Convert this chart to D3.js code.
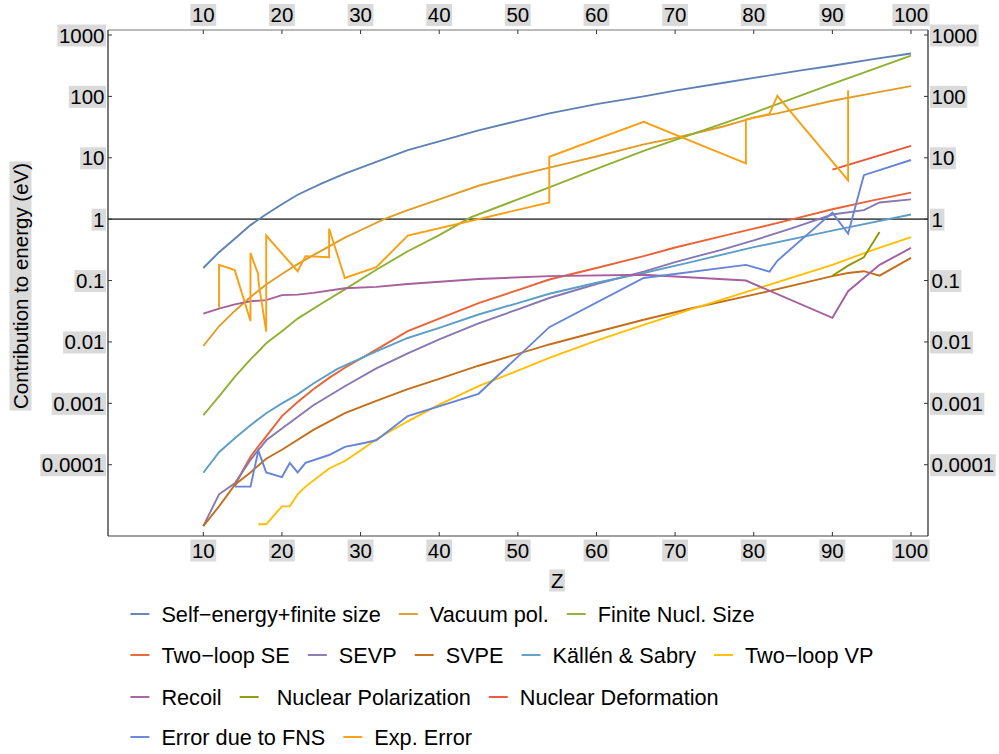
<!DOCTYPE html>
<html><head><meta charset="utf-8">
<script src="https://cdn.jsdelivr.net/npm/d3@7"></script>
<style>body{margin:0;background:#fff}text{font-family:"Liberation Sans",Arial,sans-serif;fill:#000}</style>
</head><body><svg id="c" width="999" height="754"></svg>
<script>
// ---------- data ----------
const xTicks = [10,20,30,40,50,60,70,80,90,100];
const xTickLabels = ["10","20","30","40","50","60","70","80","90","100"];
const yTicks = [1e-4,1e-3,1e-2,1e-1,1,10,100,1000];
const yTickLabels = ["0.0001","0.001","0.01","0.1","1","10","100","1000"];
const xTitle = "Z";
const yTitle = "Contribution to energy (eV)";

const selfEnergy = [[10,0.16],[12,0.29],[14,0.48],[16,0.8],[18,1.2],[20,1.75],[22,2.5],[25,3.8],[28,5.5],[32,8.6],[36,13.3],[40,18.5],[45,28],[50,40],[54,53],[60,75],[66,100],[70,124],[76,165],[80,200],[86,265],[90,315],[95,400],[100,500]];
const vacuumPol = [[10,0.0086],[12,0.018],[14,0.032],[16,0.054],[18,0.086],[20,0.128],[22,0.185],[24,0.26],[26,0.36],[28,0.5],[30,0.66],[33,1.0],[36,1.4],[40,2.1],[45,3.5],[50,5.2],[54,6.9],[60,10.5],[66,16.5],[70,21],[76,32],[80,45],[83,53],[90,85],[95,112],[100,147]];
const finiteNuclSize = [[10,0.00064],[12,0.0013],[14,0.0027],[16,0.0052],[18,0.0095],[20,0.015],[22,0.024],[25,0.042],[28,0.072],[32,0.15],[36,0.3],[40,0.55],[44,1.07],[50,2.1],[54,3.3],[60,6.6],[66,13],[73,26.5],[80,54],[90,160],[100,460]];
const twoLoopSE = [[14,4.4e-5],[15,8e-5],[16,1.35e-4],[17,2.0e-4],[18,2.9e-4],[20,6.2e-4],[22,1.05e-3],[24,1.7e-3],[26,2.6e-3],[28,3.8e-3],[32,7.5e-3],[36,0.015],[40,0.024],[45,0.043],[50,0.07],[54,0.104],[60,0.16],[66,0.25],[70,0.345],[76,0.53],[80,0.7],[85,1.0],[90,1.45],[95,2.0],[100,2.7]];
const sevp = [[10,1e-5],[12,3.3e-5],[14,5e-5],[16,1.2e-4],[18,2.5e-4],[20,3.9e-4],[24,9.3e-4],[28,1.9e-3],[32,3.7e-3],[36,6.5e-3],[40,0.011],[45,0.02],[50,0.034],[54,0.052],[60,0.088],[66,0.14],[70,0.2],[76,0.32],[80,0.45],[85,0.72],[90,1.19],[94,1.4],[96,1.87],[100,2.1]];
const svpe = [[10,1e-5],[12,2.1e-5],[14,4.7e-5],[16,7.5e-5],[18,1.25e-4],[20,1.75e-4],[24,3.7e-4],[28,6.9e-4],[32,1.1e-3],[36,1.7e-3],[40,2.5e-3],[45,4.1e-3],[54,9.1e-3],[60,0.0145],[66,0.023],[72,0.035],[80,0.059],[90,0.118],[92,0.133],[94,0.142],[96,0.12],[100,0.234]];
const kallenSabry = [[10,7.4e-5],[12,1.6e-4],[14,2.7e-4],[16,4.4e-4],[18,6.9e-4],[20,1.0e-3],[22,1.4e-3],[24,2.1e-3],[27,3.6e-3],[32,7.0e-3],[36,0.0116],[40,0.017],[45,0.028],[50,0.043],[54,0.061],[60,0.092],[66,0.133],[72,0.2],[80,0.35],[90,0.65],[100,1.19]];
const twoLoopVP = [[17,1.07e-5],[18,1.07e-5],[20,2.1e-5],[21,2.1e-5],[22,3.3e-5],[23,4.4e-5],[26,8.7e-5],[28,1.15e-4],[30,1.7e-4],[32,2.6e-4],[36,5.1e-4],[40,9.5e-4],[45,1.9e-3],[50,3.4e-3],[54,5.5e-3],[60,0.0105],[66,0.019],[72,0.034],[80,0.071],[90,0.18],[95,0.31],[100,0.51]];
const recoil = [[10,0.029],[12,0.035],[14,0.041],[16,0.046],[18,0.048],[20,0.058],[22,0.059],[24,0.063],[28,0.075],[32,0.079],[36,0.088],[45,0.106],[54,0.118],[66,0.124],[79,0.1],[90,0.0247],[92,0.067],[96,0.18],[100,0.34]];
const nuclearPolarization = [[90,0.12],[92,0.175],[94,0.24],[96,0.62]];
const nuclearDeformation = [[90,6.4],[100,15.6]];
const errorFNS = [[14,4.4e-5],[16,4.4e-5],[17,1.7e-4],[18,7.5e-5],[20,6.3e-5],[21,1.07e-4],[22,7.5e-5],[23,1.07e-4],[26,1.44e-4],[28,1.96e-4],[30,2.2e-4],[32,2.5e-4],[36,6.2e-4],[45,1.43e-3],[54,0.0174],[66,0.11],[79,0.18],[82,0.14],[83,0.21],[90,1.28],[92,0.58],[94,5.2],[100,9.2]];
const expError = [[12,0.036],[12,0.18],[14,0.148],[16,0.022],[16,0.28],[17,0.125],[17,0.1],[18,0.0147],[18,0.54],[22,0.142],[23,0.25],[26,0.24],[26,0.7],[28,0.11],[32,0.165],[36,0.54],[54,1.87],[54,10.4],[66,38.5],[79,8.1],[79,42],[82,52],[83,102],[92,4.3],[92,126]];

const seriesNames = ["Self\u2212energy+finite size","Vacuum pol.","Finite Nucl. Size","Two\u2212loop SE","SEVP","SVPE","Källén & Sabry","Two\u2212loop VP","Recoil"," Nuclear Polarization","Nuclear Deformation","Error due to FNS","Exp. Error"];
const seriesData = [selfEnergy,vacuumPol,finiteNuclSize,twoLoopSE,sevp,svpe,kallenSabry,twoLoopVP,recoil,nuclearPolarization,nuclearDeformation,errorFNS,expError];
const seriesColors = ["#5E81B5","#E19C24","#8FB032","#EB6235","#8778B3","#C56E1A","#5D9EC7","#FFBF00","#A5609D","#929600","#E95536","#6685D9","#F89F13"];
const legendRows = [[0,1,2],[3,4,5,6,7],[8,9,10],[11,12]];

// ---------- layout ----------
const W=999,H=754;
const L=108,R=928,T=30,B=536;
const FS=20.5, LFS=21.7, LBG="#dadada";
const svg=d3.select("#c");
const x=d3.scaleLinear().domain([-2.12,102.16]).range([L,R]);
const y=d3.scaleLog().domain([Math.pow(10,-5.161),Math.pow(10,3.0815)]).range([B,T]);

function boxed(sel){
  sel.each(function(){
    const bb=this.getBBox();
    const p=this.parentNode;
    d3.select(p).insert("rect",()=>this)
      .attr("x",bb.x-1.5).attr("y",bb.y+1).attr("width",bb.width+3).attr("height",bb.height-1)
      .attr("fill",LBG).attr("transform",d3.select(this).attr("transform"));
  });
}

const plot=svg.append("g");
const line=d3.line().x(d=>x(d[0])).y(d=>y(d[1]));
// unity reference line
plot.append("line").attr("x1",L).attr("x2",R).attr("y1",y(1)).attr("y2",y(1)).attr("stroke","#555").attr("stroke-width",1.6);
seriesData.forEach((s,i)=>{
  plot.append("path").attr("d",line(s)).attr("fill","none").attr("stroke",seriesColors[i]).attr("stroke-width",1.9).attr("stroke-linejoin","miter");
});

// frame
const fr=svg.append("g").attr("stroke","#222").attr("stroke-width",1.2);
fr.append("line").attr("x1",L).attr("x2",R).attr("y1",B).attr("y2",B).attr("stroke","#444");
fr.append("line").attr("x1",L).attr("x2",R).attr("y1",T).attr("y2",T).attr("stroke","#777");
fr.append("line").attr("x1",L).attr("x2",L).attr("y1",T).attr("y2",B);
fr.append("line").attr("x1",R).attr("x2",R).attr("y1",T).attr("y2",B);

// ticks
const tk=svg.append("g").attr("stroke","#333").attr("stroke-width",1);
xTicks.forEach(v=>{
  tk.append("line").attr("x1",x(v)).attr("x2",x(v)).attr("y1",B).attr("y2",B-4);
  tk.append("line").attr("x1",x(v)).attr("x2",x(v)).attr("y1",T).attr("y2",T+4);
});
yTicks.forEach(v=>{
  tk.append("line").attr("x1",L).attr("x2",L+4).attr("y1",y(v)).attr("y2",y(v));
  tk.append("line").attr("x1",R).attr("x2",R-4).attr("y1",y(v)).attr("y2",y(v));
});

const lab=svg.append("g").style("font-size",FS+"px");
const bt=lab.selectAll(".xb").data(xTicks).enter().append("text").attr("x",d=>x(d)).attr("y",550).attr("text-anchor","middle").attr("dominant-baseline","central").text((d,i)=>xTickLabels[i]);
const tt=lab.selectAll(".xt").data(xTicks).enter().append("text").attr("x",d=>x(d)).attr("y",14.5).attr("text-anchor","middle").attr("dominant-baseline","central").text((d,i)=>xTickLabels[i]);
const lt=lab.selectAll(".yl").data(yTicks).enter().append("text").attr("x",L-3.5).attr("y",d=>y(d)).attr("text-anchor","end").attr("dominant-baseline","central").text((d,i)=>yTickLabels[i]);
const rt=lab.selectAll(".yr").data(yTicks).enter().append("text").attr("x",R+3.5).attr("y",d=>y(d)).attr("text-anchor","start").attr("dominant-baseline","central").text((d,i)=>yTickLabels[i]);
const xt=lab.append("text").attr("x",(x(10)+x(100))/2+0).attr("y",580).attr("text-anchor","middle").attr("dominant-baseline","central").text(xTitle);
const yt=lab.append("text").attr("transform",`translate(20,${(T+B)/2+3}) rotate(-90)`).attr("text-anchor","middle").attr("dominant-baseline","central").text(yTitle);
[bt,tt,lt,rt,xt,yt].forEach(boxed);

// legend
const lg=svg.append("g").style("font-size",LFS+"px");
const rowY=[614,655,697,737];
legendRows.forEach((row,r)=>{
  let cx=130.4;
  row.forEach(i=>{
    lg.append("line").attr("x1",cx).attr("x2",cx+19).attr("y1",rowY[r]).attr("y2",rowY[r]).attr("stroke",seriesColors[i]).attr("stroke-width",1.9);
    const t=lg.append("text").attr("x",cx+31).attr("y",rowY[r]).attr("dominant-baseline","central").style("white-space","pre").text(seriesNames[i]);
    cx=cx+31+t.node().getComputedTextLength()+18;
  });
});
</script></body></html>
